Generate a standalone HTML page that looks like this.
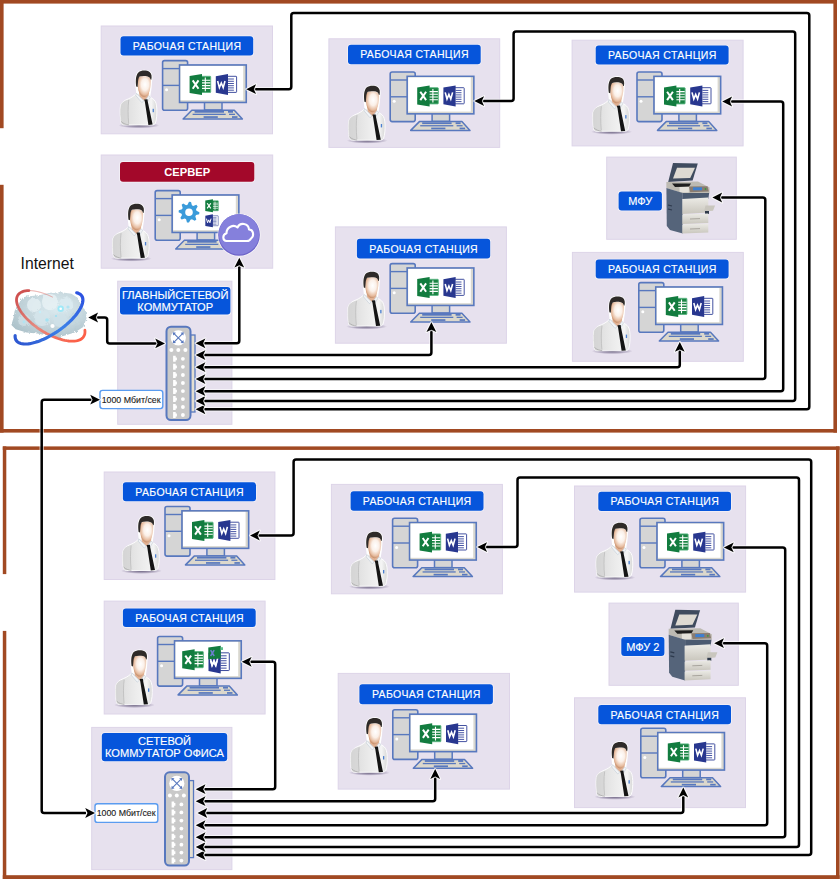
<!DOCTYPE html>
<html><head><meta charset="utf-8"><title>Network</title>
<style>html,body{margin:0;padding:0;background:#fff;}body{width:840px;height:879px;overflow:hidden;position:relative;}svg{position:absolute;left:0;top:0;display:block;} text{font-family:"Liberation Sans",sans-serif;}</style>
</head><body>
<svg width="840" height="879" viewBox="0 0 840 879">
<defs>
<radialGradient id="skin" cx="0.56" cy="0.4" r="0.62">
  <stop offset="0" stop-color="#ffffff"/>
  <stop offset="0.45" stop-color="#fbf0e8"/>
  <stop offset="0.8" stop-color="#e6bb9e"/>
  <stop offset="1" stop-color="#bf8560"/>
</radialGradient>
<linearGradient id="shirt" x1="0" y1="0" x2="1" y2="0">
  <stop offset="0" stop-color="#cfcfcf"/>
  <stop offset="0.25" stop-color="#e2e2e2"/>
  <stop offset="0.55" stop-color="#ececec"/>
  <stop offset="0.85" stop-color="#f4f4f4"/>
  <stop offset="1" stop-color="#d6d6d6"/>
</linearGradient>
<radialGradient id="shadow" cx="0.5" cy="0.5" r="0.5">
  <stop offset="0" stop-color="#5a5070" stop-opacity="0.9"/><stop offset="0.6" stop-color="#7a7090" stop-opacity="0.55"/>
  <stop offset="1" stop-color="#7c7090" stop-opacity="0"/>
</radialGradient>
<g id="person">
  <ellipse cx="139" cy="125.4" rx="20.5" ry="3" fill="url(#shadow)"/>
  <path d="M136.2,86 C135.4,80 135.8,75 138.4,72.4 C141,70.2 146.6,70 149.6,72 C151.7,73.6 152,77 151.3,81 L150.8,88 L149.5,96.5 L137.5,96.5 Z" fill="#fff" stroke="#fff" stroke-width="1.6"/>
  <path d="M121.3,123.4 C120.2,119 119.9,110 120.5,106 C121.3,102.5 124,100.6 128.5,98.8 C131.5,97.6 134.2,95.8 136.6,93.2 L148,95.8 C150.5,97.2 152.3,98.2 153.8,99.6 C155.8,101.2 156.6,104.5 156.8,109 C157,114.5 156.6,119.5 155.4,123 C155,124.3 153.6,125 151.8,125 L124.5,125 C123,125 121.8,124.4 121.3,123.4 Z" fill="url(#shirt)" stroke="#fff" stroke-width="0.9"/>
  <path d="M128.8,99.8 C127.6,104 127.8,116 128.6,123.6 L124.5,124.8 C122.5,124.6 121.5,123.8 121.2,122.5 C120.2,118 120,110 120.6,106 C121.4,102.6 124,100.8 128.8,99.8 Z" fill="#d6d6d6" opacity="0.8"/>
  <path d="M128.8,100 C127.8,106 127.9,116 128.7,123.8" stroke="#bdbdbd" stroke-width="0.8" fill="none"/>
  <path d="M121.2,121.5 C123.5,123.8 126,124.6 129,124.8" stroke="#a9a9a9" stroke-width="0.8" fill="none"/>
  <path d="M138.6,89 L149.4,89 L148.4,97.5 L144.4,100.8 L139.6,96.5 Z" fill="#e1b193"/>
  <path d="M136.4,93.2 L143.8,100.8 L141.8,102.6 L135.8,95.6 Z" fill="#f2f4f6" stroke="#b9c4d0" stroke-width="0.5"/>
  <path d="M148.6,95.6 L144.9,100.8 L147.2,102.2 L150.4,97 Z" fill="#f2f4f6" stroke="#b9c4d0" stroke-width="0.5"/>
  <path d="M144.2,99.4 L147.5,99.2 L147.8,101.8 L152.6,124.6 L148.4,124.9 L144.9,102 Z" fill="#141414"/>
  <rect x="152.6" y="108.8" width="1.3" height="3.4" fill="#4a7fd0"/>
  <path d="M137.6,80.5 C137.6,77.2 139.8,76.2 143.8,76.2 C148,76.2 150.8,77.2 150.8,81 C150.9,86 150.1,90.6 148.3,93.8 C147.1,95.9 145.6,97 144.2,97 C142.7,97 141,95.8 139.7,93.6 C138,90.5 137.5,85.5 137.6,80.5 Z" fill="url(#skin)"/>
  <path d="M136.2,86.5 C135.4,80 135.8,75 138.4,72.4 C141,70.2 146.6,70 149.6,72 C151.7,73.6 152,76.8 151.3,79.8 L150.6,79.6 C150.2,77.8 149.2,76.8 147.6,76.4 C144.8,75.9 141.6,75.9 139.6,76.6 C138.6,77.6 138.1,79.6 138,82 L137.6,87 Z" fill="#2e2a28"/>
</g>

<g id="pc">
  <rect x="162.6" y="60.6" width="25" height="49.6" rx="2" fill="#d5d5d5" stroke="#5878BE" stroke-width="1.6"/>
  <line x1="162.6" y1="68.6" x2="180" y2="68.6" stroke="#5878BE" stroke-width="1.4"/>
  <line x1="162.6" y1="85.4" x2="180" y2="85.4" stroke="#5878BE" stroke-width="1.4"/>
  <circle cx="166.6" cy="89.8" r="1.5" fill="#fff"/>
  <rect x="204.5" y="102" width="17.5" height="8" fill="#d5d5d5" stroke="#5878BE" stroke-width="1.5"/>
  <rect x="179.55" y="64.95" width="66.7" height="37.5" fill="#d9d7cf" stroke="#5878BE" stroke-width="1.6"/>
  <rect x="180.6" y="66" width="62.6" height="34.2" fill="#fff"/>
  <path d="M191.8,110.2 L234.3,110.2 L242.4,119 L183.1,119 Z" fill="#dcd8cc" stroke="#5878BE" stroke-width="1.5" stroke-linejoin="round"/>
  <rect x="194.6" y="110.9" width="29.4" height="1.8" fill="#5878BE"/>
  <rect x="228" y="110.9" width="5" height="1.8" fill="#5878BE"/>
  <rect x="192.6" y="113.7" width="33.1" height="1.3" fill="#5878BE"/>
  <rect x="229" y="113.7" width="6" height="1.3" fill="#5878BE"/>
  <rect x="203.6" y="116.2" width="14.2" height="1.7" fill="#5878BE"/>
  <rect x="232" y="116.2" width="5.5" height="1.7" fill="#5878BE"/>
</g>
<g id="xl">
  <rect x="201.2" y="76.3" width="9.5" height="16.2" rx="0.6" fill="#1a8443" stroke="#5bb583" stroke-width="0.9"/>
  <path d="M201.4,80.2 H210.3 M201.4,82.9 H210.3 M201.4,85.6 H210.3 M201.4,88.4 H210.3 M205.3,77.6 V91.2" stroke="#fff" stroke-width="1.1"/>
  <path d="M189.6,76 L202,74.1 L202,95 L189.6,93 Z" fill="#127C3F"/>
  <path d="M192.7,80.4 L198.5,88.7 M198.5,80.4 L192.7,88.7" stroke="#fff" stroke-width="2"/>
</g>
<g id="wd">
  <rect x="227" y="76.3" width="9.6" height="16.1" rx="0.6" fill="#ffffff" stroke="#2f3e96" stroke-width="0.9"/>
  <path d="M228,79 H233.9 M228,81.3 H233.9 M228,83.5 H233.9 M228,85.7 H233.9 M228,87.9 H233.9 M228,90.2 H233.9" stroke="#34449c" stroke-width="0.9"/>
  <path d="M215.8,76.2 L228,74.1 L228,95 L215.8,92.8 Z" fill="#28378F"/>
  <path d="M217.6,81 L219.4,87.6 L221.3,83 L223.2,87.6 L225,81" stroke="#fff" stroke-width="1.6" fill="none" stroke-linejoin="miter"/>
</g>
<g id="ws">
  <use href="#person"/>
  <use href="#pc"/>
  <use href="#xl"/>
  <use href="#wd"/>
</g>

<linearGradient id="drawer" x1="0" y1="0" x2="0" y2="1">
  <stop offset="0" stop-color="#ecebe6"/>
  <stop offset="1" stop-color="#c9c6bd"/>
</linearGradient>
<g id="printer">
  <path d="M673,163 L697.8,163.4 L692.6,180.6 L668.2,182 Z" fill="#3f4b5e"/>
  <path d="M677,167.8 L695,167.8 L690.2,178 L673,178.6 Z" fill="#dedad2"/>
  <path d="M666.4,182 L698,181.5 L709.5,187.5 L709.5,193 L682,193 L666.4,188 Z" fill="#bdbab2"/>
  <path d="M672,183.6 L691,183.4 L689,186.8 L675,187 Z" fill="#1e1e1e"/><path d="M679.5,187 L689,186.8 L688.8,192.4 L679.6,192.4 Z" fill="#e4e1da"/>
  <path d="M689,186.5 L707.5,186.2 L708.8,191.5 L690.2,192.2 Z" fill="#8a7c70"/>
  <rect x="693" y="187.3" width="9" height="3" fill="#3e7fd0"/>
  <circle cx="705.5" cy="189" r="0.9" fill="#3c9a3c"/>
  <path d="M666.4,188 L682.8,193 L682.8,233.6 L670,230 L666.8,226 Z" fill="#55647a"/>
  <path d="M668,205 L672,206 M668,209 L672,210" stroke="#2e3a4d" stroke-width="1.2"/>
  <path d="M682.8,193 L709.2,193 L708.3,199 L682.8,199 Z" fill="#4b5a70"/>
  <path d="M682.3,199 L708.3,197.5 L708.3,212.6 L682.3,214 Z" fill="url(#drawer)"/>
  <path d="M705.5,205.4 L715.1,205.4 L713,210.8 L704,211.5 Z" fill="#c9c6be"/>
  <path d="M705,211 L709,211 L709,214 L705,214 Z" fill="#2f3a4a"/>
  <path d="M682.3,214.6 L708.3,213.4 L708.3,223 L682.3,224 Z" fill="url(#drawer)"/>
  <path d="M682.3,224.6 L708.3,223.6 L708.3,232.5 L682.3,233.6 Z" fill="url(#drawer)"/>
  <path d="M690,219 L700,218.6 M690,229 L700,228.6" stroke="#9a978f" stroke-width="0.8"/>
</g>
<g id="switch"><rect x="190.5" y="335" width="4.5" height="77" fill="#e4ded2" stroke="#5878BE" stroke-width="1.3"/><rect x="166.5" y="326.7" width="24" height="93.3" rx="4.5" fill="#c9c9c9" stroke="#5878BE" stroke-width="2"/><circle cx="178.3" cy="337.8" r="7.6" fill="#fff"/><g stroke="#5878BE" stroke-width="1.1" fill="none"><path d="M173.8,333.3 Q178.3,337.8 182.8,342.3 M182.8,333.3 Q178.3,337.8 173.8,342.3"/></g><g fill="#5878BE"><path d="M172.8,332.3 l3.2,0.4 l-2.8,2.8 z"/><path d="M183.8,332.3 l-3.2,0.4 l2.8,2.8 z"/><path d="M172.8,343.3 l3.2,-0.4 l-2.8,-2.8 z"/><path d="M183.8,343.3 l-3.2,-0.4 l2.8,-2.8 z"/></g><circle cx="171.4" cy="349.9" r="2" fill="#fff"/><circle cx="178.3" cy="349.9" r="2" fill="#fff"/><circle cx="185.4" cy="349.9" r="2" fill="#fff"/><path d="M173.1,355.8 h2.6 v1.6 h1.2 v2.8 h-1.2 v1.6 h-2.6 z" fill="#fff"/><circle cx="182.9" cy="358.8" r="1.9" fill="#fff"/><path d="M173.1,363.8 h2.6 v1.6 h1.2 v2.8 h-1.2 v1.6 h-2.6 z" fill="#fff"/><circle cx="182.9" cy="366.8" r="1.9" fill="#fff"/><path d="M173.1,372.0 h2.6 v1.6 h1.2 v2.8 h-1.2 v1.6 h-2.6 z" fill="#fff"/><circle cx="182.9" cy="375.0" r="1.9" fill="#fff"/><path d="M173.1,380.0 h2.6 v1.6 h1.2 v2.8 h-1.2 v1.6 h-2.6 z" fill="#fff"/><circle cx="182.9" cy="383.0" r="1.9" fill="#fff"/><path d="M173.1,388.1 h2.6 v1.6 h1.2 v2.8 h-1.2 v1.6 h-2.6 z" fill="#fff"/><circle cx="182.9" cy="391.1" r="1.9" fill="#fff"/><path d="M173.1,396.1 h2.6 v1.6 h1.2 v2.8 h-1.2 v1.6 h-2.6 z" fill="#fff"/><circle cx="182.9" cy="399.1" r="1.9" fill="#fff"/><path d="M173.1,404.0 h2.6 v1.6 h1.2 v2.8 h-1.2 v1.6 h-2.6 z" fill="#fff"/><circle cx="182.9" cy="407.0" r="1.9" fill="#fff"/><path d="M173.1,412.0 h2.6 v1.6 h1.2 v2.8 h-1.2 v1.6 h-2.6 z" fill="#fff"/><circle cx="182.9" cy="415.0" r="1.9" fill="#fff"/></g></defs>
<rect width="840" height="879" fill="#fff"/>
<g fill="#A14922">
<rect x="0" y="0" width="837" height="3.6"/>
<rect x="833.4" y="0" width="3.6" height="432.6"/>
<rect x="0" y="429" width="837" height="3.6"/>
<rect x="0" y="0" width="3.6" height="128.2"/>
<rect x="0" y="184.8" width="3.6" height="247.8"/>
<rect x="2.8" y="446.4" width="836.8" height="3.5"/>
<rect x="836" y="446.4" width="3.6" height="432.6"/>
<rect x="2.8" y="875.2" width="836.8" height="3.8"/>
<rect x="2.8" y="446.4" width="3.5" height="127.7"/>
<rect x="2.8" y="630.9" width="3.5" height="248.1"/>
</g>
<rect x="101.2" y="26.0" width="171.3" height="107.8" fill="#E7E1EE" stroke="#DDD4E8" stroke-width="1"/>
<rect x="328.9" y="38.8" width="170.8" height="108.6" fill="#E7E1EE" stroke="#DDD4E8" stroke-width="1"/>
<rect x="572.1" y="40.2" width="171.0" height="105.7" fill="#E7E1EE" stroke="#DDD4E8" stroke-width="1"/>
<rect x="101.2" y="155.0" width="171.5" height="113.2" fill="#E7E1EE" stroke="#DDD4E8" stroke-width="1"/>
<rect x="606.7" y="157.1" width="129.6" height="82.2" fill="#E7E1EE" stroke="#DDD4E8" stroke-width="1"/>
<rect x="335.4" y="226.9" width="171.0" height="116.3" fill="#E7E1EE" stroke="#DDD4E8" stroke-width="1"/>
<rect x="572.4" y="252.4" width="170.9" height="108.9" fill="#E7E1EE" stroke="#DDD4E8" stroke-width="1"/>
<rect x="117.7" y="281.2" width="114.2" height="143.1" fill="#E7E1EE" stroke="#DDD4E8" stroke-width="1"/>
<rect x="104.2" y="472.0" width="170.7" height="107.5" fill="#E7E1EE" stroke="#DDD4E8" stroke-width="1"/>
<rect x="331.4" y="484.4" width="171.0" height="109.4" fill="#E7E1EE" stroke="#DDD4E8" stroke-width="1"/>
<rect x="574.5" y="486.0" width="171.1" height="106.1" fill="#E7E1EE" stroke="#DDD4E8" stroke-width="1"/>
<rect x="104.2" y="601.1" width="160.9" height="112.9" fill="#E7E1EE" stroke="#DDD4E8" stroke-width="1"/>
<rect x="609.0" y="603.1" width="129.3" height="82.2" fill="#E7E1EE" stroke="#DDD4E8" stroke-width="1"/>
<rect x="338.2" y="673.4" width="171.3" height="115.7" fill="#E7E1EE" stroke="#DDD4E8" stroke-width="1"/>
<rect x="574.5" y="697.8" width="171.0" height="109.8" fill="#E7E1EE" stroke="#DDD4E8" stroke-width="1"/>
<rect x="91.7" y="727.4" width="140.2" height="142.2" fill="#E7E1EE" stroke="#DDD4E8" stroke-width="1"/>
<rect x="119.7" y="35.5" width="134.3" height="20.8" rx="3.6" fill="#fff" fill-opacity="0.55"/>
<rect x="120.5" y="36.3" width="132.7" height="19.2" rx="3" fill="#0655DB"/>
<text x="187.0" y="49.7" font-size="10.5" font-weight="normal" fill="#fff" text-anchor="middle" letter-spacing="0.36" stroke="#fff" stroke-width="0.15">РАБОЧАЯ СТАНЦИЯ</text>
<rect x="347.2" y="44.0" width="134.3" height="21.0" rx="3.6" fill="#fff" fill-opacity="0.55"/>
<rect x="348" y="44.8" width="132.7" height="19.4" rx="3" fill="#0655DB"/>
<text x="414.5" y="58.3" font-size="10.5" font-weight="normal" fill="#fff" text-anchor="middle" letter-spacing="0.36" stroke="#fff" stroke-width="0.15">РАБОЧАЯ СТАНЦИЯ</text>
<rect x="594.9000000000001" y="44.7" width="134.5" height="20.6" rx="3.6" fill="#fff" fill-opacity="0.55"/>
<rect x="595.7" y="45.5" width="132.9" height="19.0" rx="3" fill="#0655DB"/>
<text x="662.3" y="58.8" font-size="10.5" font-weight="normal" fill="#fff" text-anchor="middle" letter-spacing="0.36" stroke="#fff" stroke-width="0.15">РАБОЧАЯ СТАНЦИЯ</text>
<rect x="119.2" y="161.1" width="135.9" height="21.4" rx="3.6" fill="#fff" fill-opacity="0.55"/>
<rect x="120" y="161.9" width="134.3" height="19.8" rx="3" fill="#A3082A"/>
<text x="187.2" y="175.9" font-size="11.2" font-weight="bold" fill="#fff" text-anchor="middle" letter-spacing="0">СЕРВЕР</text>
<rect x="617.8000000000001" y="190.6" width="44.9" height="20.7" rx="3.6" fill="#fff" fill-opacity="0.55"/>
<rect x="618.6" y="191.4" width="43.3" height="19.1" rx="3" fill="#0655DB"/>
<text x="640.2" y="205.0" font-size="11" font-weight="normal" fill="#fff" text-anchor="middle" letter-spacing="0" stroke="#fff" stroke-width="0.15">МФУ</text>
<rect x="356.09999999999997" y="238.0" width="134.9" height="21.4" rx="3.6" fill="#fff" fill-opacity="0.55"/>
<rect x="356.9" y="238.8" width="133.3" height="19.8" rx="3" fill="#0655DB"/>
<text x="423.7" y="252.5" font-size="10.5" font-weight="normal" fill="#fff" text-anchor="middle" letter-spacing="0.36" stroke="#fff" stroke-width="0.15">РАБОЧАЯ СТАНЦИЯ</text>
<rect x="594.9000000000001" y="258.7" width="134.5" height="20.7" rx="3.6" fill="#fff" fill-opacity="0.55"/>
<rect x="595.7" y="259.5" width="132.9" height="19.1" rx="3" fill="#0655DB"/>
<text x="662.3" y="272.9" font-size="10.5" font-weight="normal" fill="#fff" text-anchor="middle" letter-spacing="0.36" stroke="#fff" stroke-width="0.15">РАБОЧАЯ СТАНЦИЯ</text>
<rect x="119.2" y="286.2" width="112.0" height="29.2" rx="3.6" fill="#fff" fill-opacity="0.55"/>
<rect x="120" y="287" width="110.4" height="27.6" rx="3" fill="#0655DB"/>
<text x="175.2" y="298.7" font-size="11.1" font-weight="normal" fill="#fff" text-anchor="middle" stroke="#fff" stroke-width="0.15">ГЛАВНЫЙСЕТЕВОЙ</text>
<text x="175.2" y="310.9" font-size="11.1" font-weight="normal" fill="#fff" text-anchor="middle" stroke="#fff" stroke-width="0.15">КОММУТАТОР</text>
<rect x="122.10000000000001" y="481.5" width="134.7" height="20.6" rx="3.6" fill="#fff" fill-opacity="0.55"/>
<rect x="122.9" y="482.3" width="133.1" height="19.0" rx="3" fill="#0655DB"/>
<text x="189.6" y="495.6" font-size="10.5" font-weight="normal" fill="#fff" text-anchor="middle" letter-spacing="0.36" stroke="#fff" stroke-width="0.15">РАБОЧАЯ СТАНЦИЯ</text>
<rect x="349.8" y="490.4" width="134.5" height="21.1" rx="3.6" fill="#fff" fill-opacity="0.55"/>
<rect x="350.6" y="491.2" width="132.9" height="19.5" rx="3" fill="#0655DB"/>
<text x="417.2" y="504.8" font-size="10.5" font-weight="normal" fill="#fff" text-anchor="middle" letter-spacing="0.36" stroke="#fff" stroke-width="0.15">РАБОЧАЯ СТАНЦИЯ</text>
<rect x="597.5" y="490.9" width="134.3" height="20.9" rx="3.6" fill="#fff" fill-opacity="0.55"/>
<rect x="598.3" y="491.7" width="132.7" height="19.3" rx="3" fill="#0655DB"/>
<text x="664.8" y="505.2" font-size="10.5" font-weight="normal" fill="#fff" text-anchor="middle" letter-spacing="0.36" stroke="#fff" stroke-width="0.15">РАБОЧАЯ СТАНЦИЯ</text>
<rect x="122.10000000000001" y="607.8000000000001" width="134.4" height="20.1" rx="3.6" fill="#fff" fill-opacity="0.55"/>
<rect x="122.9" y="608.6" width="132.8" height="18.5" rx="3" fill="#0655DB"/>
<text x="189.5" y="621.7" font-size="10.5" font-weight="normal" fill="#fff" text-anchor="middle" letter-spacing="0.36" stroke="#fff" stroke-width="0.15">РАБОЧАЯ СТАНЦИЯ</text>
<rect x="620.5" y="636.2" width="44.7" height="20.6" rx="3.6" fill="#fff" fill-opacity="0.55"/>
<rect x="621.3" y="637" width="43.1" height="19.0" rx="3" fill="#0655DB"/>
<text x="642.8" y="650.5" font-size="11" font-weight="normal" fill="#fff" text-anchor="middle" letter-spacing="0" stroke="#fff" stroke-width="0.15">МФУ 2</text>
<rect x="358.59999999999997" y="683.5" width="135.1" height="21.6" rx="3.6" fill="#fff" fill-opacity="0.55"/>
<rect x="359.4" y="684.3" width="133.5" height="20.0" rx="3" fill="#0655DB"/>
<text x="426.3" y="698.1" font-size="10.5" font-weight="normal" fill="#fff" text-anchor="middle" letter-spacing="0.36" stroke="#fff" stroke-width="0.15">РАБОЧАЯ СТАНЦИЯ</text>
<rect x="597.5" y="704.2" width="134.3" height="20.9" rx="3.6" fill="#fff" fill-opacity="0.55"/>
<rect x="598.3" y="705" width="132.7" height="19.3" rx="3" fill="#0655DB"/>
<text x="664.8" y="718.5" font-size="10.5" font-weight="normal" fill="#fff" text-anchor="middle" letter-spacing="0.36" stroke="#fff" stroke-width="0.15">РАБОЧАЯ СТАНЦИЯ</text>
<rect x="101.0" y="732.2" width="127.0" height="29.8" rx="3.6" fill="#fff" fill-opacity="0.55"/>
<rect x="101.8" y="733" width="125.4" height="28.2" rx="3" fill="#0655DB"/>
<text x="164.5" y="745.0" font-size="11.1" font-weight="normal" fill="#fff" text-anchor="middle" stroke="#fff" stroke-width="0.15">СЕТЕВОЙ</text>
<text x="164.5" y="757.2" font-size="11.1" font-weight="normal" fill="#fff" text-anchor="middle" stroke="#fff" stroke-width="0.15">КОММУТАТОР ОФИСА</text>
<use href="#person" transform="translate(0,0)"/>
<use href="#pc" transform="translate(0,0)"/>
<use href="#xl" transform="translate(0,0)"/>
<use href="#wd" transform="translate(0,0)"/>
<use href="#person" transform="translate(228.2,15.2)"/>
<use href="#pc" transform="translate(227.6,11.4)"/>
<use href="#xl" transform="translate(227.6,11.4)"/>
<use href="#wd" transform="translate(227.6,11.4)"/>
<use href="#person" transform="translate(472.6,6.3)"/>
<use href="#pc" transform="translate(474.4,11.4)"/>
<use href="#xl" transform="translate(474.4,11.4)"/>
<use href="#wd" transform="translate(474.4,11.4)"/>
<use href="#person" transform="translate(227.6,201.1)"/>
<use href="#pc" transform="translate(227.6,203)"/>
<use href="#xl" transform="translate(227.6,203)"/>
<use href="#wd" transform="translate(227.6,203)"/>
<use href="#person" transform="translate(473.2,225.8)"/>
<use href="#pc" transform="translate(476.2,222)"/>
<use href="#xl" transform="translate(476.2,222)"/>
<use href="#wd" transform="translate(476.2,222)"/>
<use href="#person" transform="translate(2.4,445.5)"/>
<use href="#pc" transform="translate(2.4,445.9)"/>
<use href="#xl" transform="translate(2.4,445.9)"/>
<use href="#wd" transform="translate(2.4,445.9)"/>
<use href="#person" transform="translate(230.4,461.2)"/>
<use href="#pc" transform="translate(230,457.6)"/>
<use href="#xl" transform="translate(230,457.6)"/>
<use href="#wd" transform="translate(230,457.6)"/>
<use href="#person" transform="translate(475.9,452.1)"/>
<use href="#pc" transform="translate(477.4,457.6)"/>
<use href="#xl" transform="translate(477.4,457.6)"/>
<use href="#wd" transform="translate(477.4,457.6)"/>
<use href="#person" transform="translate(-4.6,579.6)"/>
<use href="#pc" transform="translate(-5,575.9)"/>
<use href="#xl" transform="translate(-7.4,575.1999999999999)"/>
<use href="#wd" transform="translate(-7.3,576.3) translate(215.6,74) scale(1,1.1) translate(-215.6,-74)"/>
<path d="M208.3,647.6 L220.8,645.8 L220.8,658.5 L208.3,659.2 Z" fill="#127C3F"/>
<path d="M220.8,647.2 L223,647.2 L223,650 L220.8,650 Z" fill="#5cc08a"/>
<path d="M210.6,650.2 L214.2,656 M214.2,650.2 L210.6,656" stroke="#6e7fd0" stroke-width="1.5"/>
<path d="M210.5,661 L212,666 L213.8,662.5 L215.6,666 L217.2,661" stroke="#fff" stroke-width="1.2" fill="none"/>
<use href="#person" transform="translate(230.4,647.3)"/>
<use href="#pc" transform="translate(230.2,649.2)"/>
<use href="#xl" transform="translate(230.2,649.2)"/>
<use href="#wd" transform="translate(230.2,649.2)"/>
<use href="#person" transform="translate(475.9,671.4)"/>
<use href="#pc" transform="translate(478.2,667.6)"/>
<use href="#xl" transform="translate(478.2,667.6)"/>
<use href="#wd" transform="translate(478.2,667.6)"/>
<use href="#person" transform="translate(-7.7,133.2)"/>
<use href="#pc" transform="translate(-7.4,130)"/>
<path d="M189.00,201.80 L191.03,202.00 L191.91,205.18 L193.22,205.88 L196.35,204.85 L197.65,206.42 L196.02,209.29 L196.45,210.72 L199.40,212.20 L199.20,214.23 L196.02,215.11 L195.32,216.42 L196.35,219.55 L194.78,220.85 L191.91,219.22 L190.48,219.65 L189.00,222.60 L186.97,222.40 L186.09,219.22 L184.78,218.52 L181.65,219.55 L180.35,217.98 L181.98,215.11 L181.55,213.68 L178.60,212.20 L178.80,210.17 L181.98,209.29 L182.68,207.98 L181.65,204.85 L183.22,203.55 L186.09,205.18 L187.52,204.75 Z M192.8,212.2 A3.8,3.8 0 1,0 185.2,212.2 A3.8,3.8 0 1,0 192.8,212.2 Z" fill="#3A9BDA" fill-rule="evenodd"/>
<use href="#xl" transform="translate(205.2,199.3) scale(0.62) translate(-189.5,-74)"/>
<use href="#wd" transform="translate(205.2,214.3) scale(0.62) translate(-215.6,-74)"/>
<circle cx="239" cy="235" r="21.6" fill="#fff" opacity="0.7"/>
<circle cx="239" cy="235" r="20.8" fill="#6E64C8"/>
<circle cx="239" cy="234.3" r="20.2" fill="#8580DC"/>
<path d="M226.5,241 C222.5,241 222,234.5 226.5,233.2 C226.5,227 233.5,224 237.5,227.5 C240,222 248.5,223 249,229.5 C253.5,229.5 254.5,236 251,238.5 C250,240.5 248.5,241 247,241 Z" fill="none" stroke="#fff" stroke-width="2.1" stroke-linejoin="round"/>
<use href="#printer"/>
<use href="#printer" transform="translate(2.3,446.8)"/>
<use href="#switch"/>
<use href="#switch" transform="translate(-1.5,445.6)"/>
<rect x="100" y="390.4" width="62.8" height="18.2" rx="2.5" fill="#fff" stroke="#5A9CF0" stroke-width="1.4"/>
<text x="131.1" y="402.8" font-size="8.8" fill="#1a1a1a" stroke="#1a1a1a" stroke-width="0.12" text-anchor="middle">1000 Мбит/сек</text>
<rect x="95" y="803.7" width="62.8" height="18.7" rx="2.5" fill="#fff" stroke="#5A9CF0" stroke-width="1.4"/>
<text x="126.1" y="816.3" font-size="8.8" fill="#1a1a1a" stroke="#1a1a1a" stroke-width="0.12" text-anchor="middle">1000 Мбит/сек</text>
<text x="20.6" y="268.8" font-size="15.7" fill="#111">Internet</text>
<g>
<defs><radialGradient id="cl" cx="0.6" cy="0.35" r="0.7"><stop offset="0" stop-color="#dcebf0"/><stop offset="0.5" stop-color="#c8d9df"/><stop offset="1" stop-color="#adc2ca"/></radialGradient>
<linearGradient id="rb" x1="0" y1="1" x2="1" y2="0"><stop offset="0" stop-color="#2d55d0"/><stop offset="0.5" stop-color="#3c82e8"/><stop offset="1" stop-color="#2b4fe0"/></linearGradient>
<linearGradient id="rr" x1="0" y1="0" x2="1" y2="1"><stop offset="0" stop-color="#cc4a4a"/><stop offset="0.5" stop-color="#e58a80"/><stop offset="1" stop-color="#ff5a40"/></linearGradient>
<filter id="rough" x="-10%" y="-10%" width="120%" height="120%"><feTurbulence type="fractalNoise" baseFrequency="0.35" numOctaves="2" seed="3" result="n"/><feDisplacementMap in="SourceGraphic" in2="n" scale="3.5"/></filter>
</defs>
<path d="M23.2,297 L31.8,296 L40.4,294.9 L50,292.7 L60.7,292.2 L71.5,293.8 L77.9,298 L82.2,306.7 L85.9,311 L86.5,318.4 L83.2,327 L74.7,332.4 L65,335.6 L56.4,337.7 L47.9,335.6 L37.2,333.4 L26.4,332.4 L15.7,329.2 L11.4,324.9 L13.6,317.4 L14.6,310.9 L18.9,303.4 Z" fill="url(#cl)" filter="url(#rough)"/>
<g filter="url(#rough)" opacity="0.85">
<circle cx="34" cy="305" r="7" fill="#e4eff3"/>
<circle cx="50" cy="302" r="8" fill="#e8f2f5"/>
<circle cx="66" cy="304" r="7" fill="#dcecf2"/>
<circle cx="42" cy="318" r="8" fill="#d6e6ec"/>
<circle cx="60" cy="320" r="7" fill="#d0e2e9"/>
<circle cx="24" cy="320" r="6" fill="#cfdfe5"/>
<circle cx="75" cy="318" r="5" fill="#c4d8df"/>
</g>
<circle cx="60.7" cy="308.8" r="3.2" fill="#8fe8fa" opacity="0.8"/>
<circle cx="60.7" cy="308.8" r="1.3" fill="#fff"/>
<circle cx="47" cy="320" r="1.8" fill="#a6e2f2"/>
<circle cx="52.5" cy="326" r="2.1" fill="#ffffff"/>
<circle cx="68" cy="307" r="1.6" fill="#b1e4f2"/>
<circle cx="24" cy="322" r="1.4" fill="#b1e4f2"/>
<circle cx="40" cy="312" r="1.2" fill="#c6eef8"/>
<circle cx="56" cy="316" r="1.1" fill="#9fe0f2"/>
<path d="M27.63,290.64 L27.97,290.63 L28.31,290.61 L28.66,290.60 L29.01,290.60 L29.36,290.60 L29.72,290.60 L30.08,290.61 L30.45,290.63 L30.82,290.64 L31.19,290.67 L31.57,290.69 L31.95,290.72 L32.33,290.76 L32.72,290.80 L33.11,290.85 L33.50,290.89 L33.90,290.95 L34.29,291.01 L34.70,291.07 L35.10,291.14 L35.51,291.21 L35.92,291.28 L36.33,291.36 L36.75,291.45 L37.16,291.54 L37.59,291.63 L38.01,291.73 L38.43,291.83 L38.86,291.94 L39.29,292.05 L39.72,292.16 L40.15,292.28 L40.59,292.40 L41.02,292.53 L41.46,292.66 L41.90,292.80 L42.35,292.94 L42.79,293.08 L43.23,293.23 L43.68,293.38 L44.13,293.53 L44.58,293.69 L45.02,293.86 L45.48,294.03 L45.93,294.20 L46.38,294.37 L46.83,294.55 L47.29,294.73 L47.74,294.92 L48.20,295.11 L48.65,295.31 L49.11,295.50 L49.56,295.70 L50.02,295.91 L50.48,296.12 L50.93,296.33 L51.39,296.55 L51.85,296.76 L52.30,296.99 L52.76,297.21" fill="none" stroke="#e08a84" stroke-width="1" opacity="0.8"/>
<path d="M84.88,330.23 L84.99,331.62 L84.93,332.94 L84.72,334.18 L84.34,335.33 L83.81,336.39 L83.13,337.36 L82.29,338.22 L81.31,338.98 L80.19,339.64 L78.92,340.18 L77.53,340.61 L76.01,340.92 L74.37,341.12 L72.63,341.20 L70.78,341.16 L68.83,341.00 L66.81,340.73 L64.70,340.34 L62.54,339.84 L60.31,339.22 L58.05,338.50 L55.74,337.67 L53.42,336.74 L51.08,335.71 L48.74,334.59 L46.42,333.38 L44.11,332.09 L41.83,330.72 L39.59,329.29 L37.41,327.79 L35.29,326.24 L33.24,324.64 L31.27,323.00 L29.39,321.32 L27.61,319.62 L25.94,317.91 L24.39,316.18 L22.96,314.45 L21.66,312.73 L20.49,311.02 L19.47,309.34 L18.59,307.69 L17.87,306.07 L17.29,304.50 L16.87,302.99 L16.61,301.53 L16.51,300.14 L16.57,298.83 L16.79,297.59 L17.17,296.44 L17.70,295.38 L18.39,294.42 L19.23,293.56 L20.22,292.80 L21.34,292.15 L22.61,291.61 L24.01,291.18 L25.53,290.87 L27.17,290.68 L28.92,290.60" fill="none" stroke="url(#rr)" stroke-width="2.8" stroke-linecap="round"/>
<path d="M76.70,292.79 L77.88,293.13 L78.94,293.57 L79.89,294.10 L80.71,294.74 L81.40,295.46 L81.96,296.28 L82.40,297.19 L82.69,298.18 L82.86,299.25 L82.88,300.40 L82.77,301.62 L82.53,302.90 L82.15,304.25 L81.64,305.65 L81.00,307.11 L80.22,308.60 L79.33,310.14 L78.31,311.71 L77.17,313.30 L75.93,314.91 L74.57,316.54 L73.11,318.17 L71.56,319.81 L69.91,321.44 L68.18,323.05 L66.37,324.64 L64.50,326.21 L62.56,327.75 L60.56,329.25 L58.53,330.70 L56.45,332.11 L54.34,333.46 L52.21,334.74 L50.07,335.96 L47.92,337.11 L45.78,338.19 L43.65,339.18 L41.55,340.09 L39.47,340.91 L37.43,341.64 L35.44,342.28 L33.50,342.82 L31.62,343.26 L29.82,343.60 L28.09,343.84 L26.44,343.98 L24.89,344.01 L23.43,343.94 L22.07,343.76 L20.82,343.49 L19.69,343.11 L18.67,342.63 L17.77,342.06 L17.00,341.39 L16.36,340.62 L15.85,339.77 L15.47,338.83 L15.23,337.80 L15.12,336.70 L15.14,335.53" fill="none" stroke="url(#rb)" stroke-width="3.2" stroke-linecap="round"/>
</g>
<path d="M254,89.2 L288.80,89.20 Q291.3,89.2 291.30,86.70 L291.30,15.60 Q291.3,13.1 293.80,13.10 L806.80,13.10 Q809.3,13.1 809.30,15.60 L809.30,406.80 Q809.3,409.3 806.80,409.30 L203,409.3" fill="none" stroke="#fff" stroke-opacity="0.6" stroke-width="4.5"/>
<path d="M482,101.1 L511.10,101.10 Q513.6,101.1 513.60,98.60 L513.60,33.90 Q513.6,31.4 516.10,31.40 L792.70,31.40 Q795.2,31.4 795.20,33.90 L795.20,398.50 Q795.2,401 792.70,401.00 L203,401" fill="none" stroke="#fff" stroke-opacity="0.6" stroke-width="4.5"/>
<path d="M730,101.5 L780.70,101.50 Q783.2,101.5 783.20,104.00 L783.20,388.70 Q783.2,391.2 780.70,391.20 L203,391.2" fill="none" stroke="#fff" stroke-opacity="0.6" stroke-width="4.5"/>
<path d="M720,197.5 L762.80,197.50 Q765.3,197.5 765.30,200.00 L765.30,376.60 Q765.3,379.1 762.80,379.10 L203,379.1" fill="none" stroke="#fff" stroke-opacity="0.6" stroke-width="4.5"/>
<path d="M679.8,350 L679.80,364.70 Q679.8,367.2 677.30,367.20 L203,367.2" fill="none" stroke="#fff" stroke-opacity="0.6" stroke-width="4.5"/>
<path d="M431.4,330 L431.40,352.60 Q431.4,355.1 428.90,355.10 L203,355.1" fill="none" stroke="#fff" stroke-opacity="0.6" stroke-width="4.5"/>
<path d="M239.3,266 L239.30,340.80 Q239.3,343.3 236.80,343.30 L203,343.3" fill="none" stroke="#fff" stroke-opacity="0.6" stroke-width="4.5"/>
<path d="M96,317.5 L104.70,317.50 Q107.2,317.5 107.20,320.00 L107.20,340.90 Q107.2,343.4 109.70,343.40 L157,343.4" fill="none" stroke="#fff" stroke-opacity="0.6" stroke-width="4.5"/>
<path d="M92,399.7 L44.20,399.70 Q41.7,399.7 41.70,402.20 L41.70,810.50 Q41.7,813 44.20,813.00 L86,813" fill="none" stroke="#fff" stroke-opacity="0.6" stroke-width="4.5"/>
<path d="M258,535.5 L291.10,535.50 Q293.6,535.5 293.60,533.00 L293.60,461.90 Q293.6,459.4 296.10,459.40 L808.70,459.40 Q811.2,459.4 811.20,461.90 L811.20,852.50 Q811.2,855 808.70,855.00 L204,855" fill="none" stroke="#fff" stroke-opacity="0.6" stroke-width="4.5"/>
<path d="M485,547.1 L515.00,547.10 Q517.5,547.1 517.50,544.60 L517.50,479.90 Q517.5,477.4 520.00,477.40 L796.50,477.40 Q799,477.4 799.00,479.90 L799.00,844.60 Q799,847.1 796.50,847.10 L204,847.1" fill="none" stroke="#fff" stroke-opacity="0.6" stroke-width="4.5"/>
<path d="M732,547.4 L782.70,547.40 Q785.2,547.4 785.20,549.90 L785.20,834.70 Q785.2,837.2 782.70,837.20 L204,837.2" fill="none" stroke="#fff" stroke-opacity="0.6" stroke-width="4.5"/>
<path d="M722,643.2 L764.70,643.20 Q767.2,643.2 767.20,645.70 L767.20,822.70 Q767.2,825.2 764.70,825.20 L204,825.2" fill="none" stroke="#fff" stroke-opacity="0.6" stroke-width="4.5"/>
<path d="M683.3,796 L683.30,810.50 Q683.3,813 680.80,813.00 L204,813" fill="none" stroke="#fff" stroke-opacity="0.6" stroke-width="4.5"/>
<path d="M435.2,777 L435.20,798.70 Q435.2,801.2 432.70,801.20 L204,801.2" fill="none" stroke="#fff" stroke-opacity="0.6" stroke-width="4.5"/>
<path d="M250,661.8 L272.70,661.80 Q275.2,661.8 275.20,664.30 L275.20,786.70 Q275.2,789.2 272.70,789.20 L204,789.2" fill="none" stroke="#fff" stroke-opacity="0.6" stroke-width="4.5"/>
<path d="M254,89.2 L288.80,89.20 Q291.3,89.2 291.30,86.70 L291.30,15.60 Q291.3,13.1 293.80,13.10 L806.80,13.10 Q809.3,13.1 809.30,15.60 L809.30,406.80 Q809.3,409.3 806.80,409.30 L203,409.3" fill="none" stroke="#000" stroke-width="2.5"/>
<path d="M246.30,89.20 L256.10,84.30 L253.80,89.20 L256.10,94.10 Z" fill="#fff" stroke="#fff" stroke-opacity="0.75" stroke-width="2.2" stroke-linejoin="round"/>
<path d="M246.30,89.20 L256.10,84.30 L253.80,89.20 L256.10,94.10 Z" fill="#000"/>
<path d="M195.60,409.30 L205.40,404.40 L203.10,409.30 L205.40,414.20 Z" fill="#fff" stroke="#fff" stroke-opacity="0.75" stroke-width="2.2" stroke-linejoin="round"/>
<path d="M195.60,409.30 L205.40,404.40 L203.10,409.30 L205.40,414.20 Z" fill="#000"/>
<path d="M482,101.1 L511.10,101.10 Q513.6,101.1 513.60,98.60 L513.60,33.90 Q513.6,31.4 516.10,31.40 L792.70,31.40 Q795.2,31.4 795.20,33.90 L795.20,398.50 Q795.2,401 792.70,401.00 L203,401" fill="none" stroke="#000" stroke-width="2.5"/>
<path d="M474.30,101.10 L484.10,96.20 L481.80,101.10 L484.10,106.00 Z" fill="#fff" stroke="#fff" stroke-opacity="0.75" stroke-width="2.2" stroke-linejoin="round"/>
<path d="M474.30,101.10 L484.10,96.20 L481.80,101.10 L484.10,106.00 Z" fill="#000"/>
<path d="M195.60,401.00 L205.40,396.10 L203.10,401.00 L205.40,405.90 Z" fill="#fff" stroke="#fff" stroke-opacity="0.75" stroke-width="2.2" stroke-linejoin="round"/>
<path d="M195.60,401.00 L205.40,396.10 L203.10,401.00 L205.40,405.90 Z" fill="#000"/>
<path d="M730,101.5 L780.70,101.50 Q783.2,101.5 783.20,104.00 L783.20,388.70 Q783.2,391.2 780.70,391.20 L203,391.2" fill="none" stroke="#000" stroke-width="2.5"/>
<path d="M722.30,101.50 L732.10,96.60 L729.80,101.50 L732.10,106.40 Z" fill="#fff" stroke="#fff" stroke-opacity="0.75" stroke-width="2.2" stroke-linejoin="round"/>
<path d="M722.30,101.50 L732.10,96.60 L729.80,101.50 L732.10,106.40 Z" fill="#000"/>
<path d="M195.60,391.20 L205.40,386.30 L203.10,391.20 L205.40,396.10 Z" fill="#fff" stroke="#fff" stroke-opacity="0.75" stroke-width="2.2" stroke-linejoin="round"/>
<path d="M195.60,391.20 L205.40,386.30 L203.10,391.20 L205.40,396.10 Z" fill="#000"/>
<path d="M720,197.5 L762.80,197.50 Q765.3,197.5 765.30,200.00 L765.30,376.60 Q765.3,379.1 762.80,379.10 L203,379.1" fill="none" stroke="#000" stroke-width="2.5"/>
<path d="M712.40,197.50 L722.20,192.60 L719.90,197.50 L722.20,202.40 Z" fill="#fff" stroke="#fff" stroke-opacity="0.75" stroke-width="2.2" stroke-linejoin="round"/>
<path d="M712.40,197.50 L722.20,192.60 L719.90,197.50 L722.20,202.40 Z" fill="#000"/>
<path d="M195.60,379.10 L205.40,374.20 L203.10,379.10 L205.40,384.00 Z" fill="#fff" stroke="#fff" stroke-opacity="0.75" stroke-width="2.2" stroke-linejoin="round"/>
<path d="M195.60,379.10 L205.40,374.20 L203.10,379.10 L205.40,384.00 Z" fill="#000"/>
<path d="M679.8,350 L679.80,364.70 Q679.8,367.2 677.30,367.20 L203,367.2" fill="none" stroke="#000" stroke-width="2.5"/>
<path d="M679.80,341.90 L674.90,351.70 L679.80,349.40 L684.70,351.70 Z" fill="#fff" stroke="#fff" stroke-opacity="0.75" stroke-width="2.2" stroke-linejoin="round"/>
<path d="M679.80,341.90 L674.90,351.70 L679.80,349.40 L684.70,351.70 Z" fill="#000"/>
<path d="M195.60,367.20 L205.40,362.30 L203.10,367.20 L205.40,372.10 Z" fill="#fff" stroke="#fff" stroke-opacity="0.75" stroke-width="2.2" stroke-linejoin="round"/>
<path d="M195.60,367.20 L205.40,362.30 L203.10,367.20 L205.40,372.10 Z" fill="#000"/>
<path d="M431.4,330 L431.40,352.60 Q431.4,355.1 428.90,355.10 L203,355.1" fill="none" stroke="#000" stroke-width="2.5"/>
<path d="M431.40,322.30 L426.50,332.10 L431.40,329.80 L436.30,332.10 Z" fill="#fff" stroke="#fff" stroke-opacity="0.75" stroke-width="2.2" stroke-linejoin="round"/>
<path d="M431.40,322.30 L426.50,332.10 L431.40,329.80 L436.30,332.10 Z" fill="#000"/>
<path d="M195.60,355.10 L205.40,350.20 L203.10,355.10 L205.40,360.00 Z" fill="#fff" stroke="#fff" stroke-opacity="0.75" stroke-width="2.2" stroke-linejoin="round"/>
<path d="M195.60,355.10 L205.40,350.20 L203.10,355.10 L205.40,360.00 Z" fill="#000"/>
<path d="M239.3,266 L239.30,340.80 Q239.3,343.3 236.80,343.30 L203,343.3" fill="none" stroke="#000" stroke-width="2.5"/>
<path d="M239.30,257.80 L234.40,267.60 L239.30,265.30 L244.20,267.60 Z" fill="#fff" stroke="#fff" stroke-opacity="0.75" stroke-width="2.2" stroke-linejoin="round"/>
<path d="M239.30,257.80 L234.40,267.60 L239.30,265.30 L244.20,267.60 Z" fill="#000"/>
<path d="M195.60,343.30 L205.40,338.40 L203.10,343.30 L205.40,348.20 Z" fill="#fff" stroke="#fff" stroke-opacity="0.75" stroke-width="2.2" stroke-linejoin="round"/>
<path d="M195.60,343.30 L205.40,338.40 L203.10,343.30 L205.40,348.20 Z" fill="#000"/>
<path d="M96,317.5 L104.70,317.50 Q107.2,317.5 107.20,320.00 L107.20,340.90 Q107.2,343.4 109.70,343.40 L157,343.4" fill="none" stroke="#000" stroke-width="2.5"/>
<path d="M88.30,317.50 L98.10,312.60 L95.80,317.50 L98.10,322.40 Z" fill="#fff" stroke="#fff" stroke-opacity="0.75" stroke-width="2.2" stroke-linejoin="round"/>
<path d="M88.30,317.50 L98.10,312.60 L95.80,317.50 L98.10,322.40 Z" fill="#000"/>
<path d="M165.00,343.40 L155.20,338.50 L157.50,343.40 L155.20,348.30 Z" fill="#fff" stroke="#fff" stroke-opacity="0.75" stroke-width="2.2" stroke-linejoin="round"/>
<path d="M165.00,343.40 L155.20,338.50 L157.50,343.40 L155.20,348.30 Z" fill="#000"/>
<path d="M92,399.7 L44.20,399.70 Q41.7,399.7 41.70,402.20 L41.70,810.50 Q41.7,813 44.20,813.00 L86,813" fill="none" stroke="#000" stroke-width="2.5"/>
<path d="M100.00,399.70 L90.20,394.80 L92.50,399.70 L90.20,404.60 Z" fill="#fff" stroke="#fff" stroke-opacity="0.75" stroke-width="2.2" stroke-linejoin="round"/>
<path d="M100.00,399.70 L90.20,394.80 L92.50,399.70 L90.20,404.60 Z" fill="#000"/>
<path d="M95.00,813.00 L85.20,808.10 L87.50,813.00 L85.20,817.90 Z" fill="#fff" stroke="#fff" stroke-opacity="0.75" stroke-width="2.2" stroke-linejoin="round"/>
<path d="M95.00,813.00 L85.20,808.10 L87.50,813.00 L85.20,817.90 Z" fill="#000"/>
<path d="M258,535.5 L291.10,535.50 Q293.6,535.5 293.60,533.00 L293.60,461.90 Q293.6,459.4 296.10,459.40 L808.70,459.40 Q811.2,459.4 811.20,461.90 L811.20,852.50 Q811.2,855 808.70,855.00 L204,855" fill="none" stroke="#000" stroke-width="2.5"/>
<path d="M250.00,535.50 L259.80,530.60 L257.50,535.50 L259.80,540.40 Z" fill="#fff" stroke="#fff" stroke-opacity="0.75" stroke-width="2.2" stroke-linejoin="round"/>
<path d="M250.00,535.50 L259.80,530.60 L257.50,535.50 L259.80,540.40 Z" fill="#000"/>
<path d="M195.70,855.00 L205.50,850.10 L203.20,855.00 L205.50,859.90 Z" fill="#fff" stroke="#fff" stroke-opacity="0.75" stroke-width="2.2" stroke-linejoin="round"/>
<path d="M195.70,855.00 L205.50,850.10 L203.20,855.00 L205.50,859.90 Z" fill="#000"/>
<path d="M485,547.1 L515.00,547.10 Q517.5,547.1 517.50,544.60 L517.50,479.90 Q517.5,477.4 520.00,477.40 L796.50,477.40 Q799,477.4 799.00,479.90 L799.00,844.60 Q799,847.1 796.50,847.10 L204,847.1" fill="none" stroke="#000" stroke-width="2.5"/>
<path d="M477.30,547.10 L487.10,542.20 L484.80,547.10 L487.10,552.00 Z" fill="#fff" stroke="#fff" stroke-opacity="0.75" stroke-width="2.2" stroke-linejoin="round"/>
<path d="M477.30,547.10 L487.10,542.20 L484.80,547.10 L487.10,552.00 Z" fill="#000"/>
<path d="M195.70,847.10 L205.50,842.20 L203.20,847.10 L205.50,852.00 Z" fill="#fff" stroke="#fff" stroke-opacity="0.75" stroke-width="2.2" stroke-linejoin="round"/>
<path d="M195.70,847.10 L205.50,842.20 L203.20,847.10 L205.50,852.00 Z" fill="#000"/>
<path d="M732,547.4 L782.70,547.40 Q785.2,547.4 785.20,549.90 L785.20,834.70 Q785.2,837.2 782.70,837.20 L204,837.2" fill="none" stroke="#000" stroke-width="2.5"/>
<path d="M723.90,547.40 L733.70,542.50 L731.40,547.40 L733.70,552.30 Z" fill="#fff" stroke="#fff" stroke-opacity="0.75" stroke-width="2.2" stroke-linejoin="round"/>
<path d="M723.90,547.40 L733.70,542.50 L731.40,547.40 L733.70,552.30 Z" fill="#000"/>
<path d="M195.70,837.20 L205.50,832.30 L203.20,837.20 L205.50,842.10 Z" fill="#fff" stroke="#fff" stroke-opacity="0.75" stroke-width="2.2" stroke-linejoin="round"/>
<path d="M195.70,837.20 L205.50,832.30 L203.20,837.20 L205.50,842.10 Z" fill="#000"/>
<path d="M722,643.2 L764.70,643.20 Q767.2,643.2 767.20,645.70 L767.20,822.70 Q767.2,825.2 764.70,825.20 L204,825.2" fill="none" stroke="#000" stroke-width="2.5"/>
<path d="M714.20,643.20 L724.00,638.30 L721.70,643.20 L724.00,648.10 Z" fill="#fff" stroke="#fff" stroke-opacity="0.75" stroke-width="2.2" stroke-linejoin="round"/>
<path d="M714.20,643.20 L724.00,638.30 L721.70,643.20 L724.00,648.10 Z" fill="#000"/>
<path d="M195.70,825.20 L205.50,820.30 L203.20,825.20 L205.50,830.10 Z" fill="#fff" stroke="#fff" stroke-opacity="0.75" stroke-width="2.2" stroke-linejoin="round"/>
<path d="M195.70,825.20 L205.50,820.30 L203.20,825.20 L205.50,830.10 Z" fill="#000"/>
<path d="M683.3,796 L683.30,810.50 Q683.3,813 680.80,813.00 L204,813" fill="none" stroke="#000" stroke-width="2.5"/>
<path d="M683.30,787.60 L678.40,797.40 L683.30,795.10 L688.20,797.40 Z" fill="#fff" stroke="#fff" stroke-opacity="0.75" stroke-width="2.2" stroke-linejoin="round"/>
<path d="M683.30,787.60 L678.40,797.40 L683.30,795.10 L688.20,797.40 Z" fill="#000"/>
<path d="M197.50,813.00 L207.30,808.10 L205.00,813.00 L207.30,817.90 Z" fill="#fff" stroke="#fff" stroke-opacity="0.75" stroke-width="2.2" stroke-linejoin="round"/>
<path d="M197.50,813.00 L207.30,808.10 L205.00,813.00 L207.30,817.90 Z" fill="#000"/>
<path d="M435.2,777 L435.20,798.70 Q435.2,801.2 432.70,801.20 L204,801.2" fill="none" stroke="#000" stroke-width="2.5"/>
<path d="M435.20,769.10 L430.30,778.90 L435.20,776.60 L440.10,778.90 Z" fill="#fff" stroke="#fff" stroke-opacity="0.75" stroke-width="2.2" stroke-linejoin="round"/>
<path d="M435.20,769.10 L430.30,778.90 L435.20,776.60 L440.10,778.90 Z" fill="#000"/>
<path d="M195.70,801.20 L205.50,796.30 L203.20,801.20 L205.50,806.10 Z" fill="#fff" stroke="#fff" stroke-opacity="0.75" stroke-width="2.2" stroke-linejoin="round"/>
<path d="M195.70,801.20 L205.50,796.30 L203.20,801.20 L205.50,806.10 Z" fill="#000"/>
<path d="M250,661.8 L272.70,661.80 Q275.2,661.8 275.20,664.30 L275.20,786.70 Q275.2,789.2 272.70,789.20 L204,789.2" fill="none" stroke="#000" stroke-width="2.5"/>
<path d="M241.80,661.80 L251.60,656.90 L249.30,661.80 L251.60,666.70 Z" fill="#fff" stroke="#fff" stroke-opacity="0.75" stroke-width="2.2" stroke-linejoin="round"/>
<path d="M241.80,661.80 L251.60,656.90 L249.30,661.80 L251.60,666.70 Z" fill="#000"/>
<path d="M195.70,789.20 L205.50,784.30 L203.20,789.20 L205.50,794.10 Z" fill="#fff" stroke="#fff" stroke-opacity="0.75" stroke-width="2.2" stroke-linejoin="round"/>
<path d="M195.70,789.20 L205.50,784.30 L203.20,789.20 L205.50,794.10 Z" fill="#000"/>
</svg>
</body></html>
